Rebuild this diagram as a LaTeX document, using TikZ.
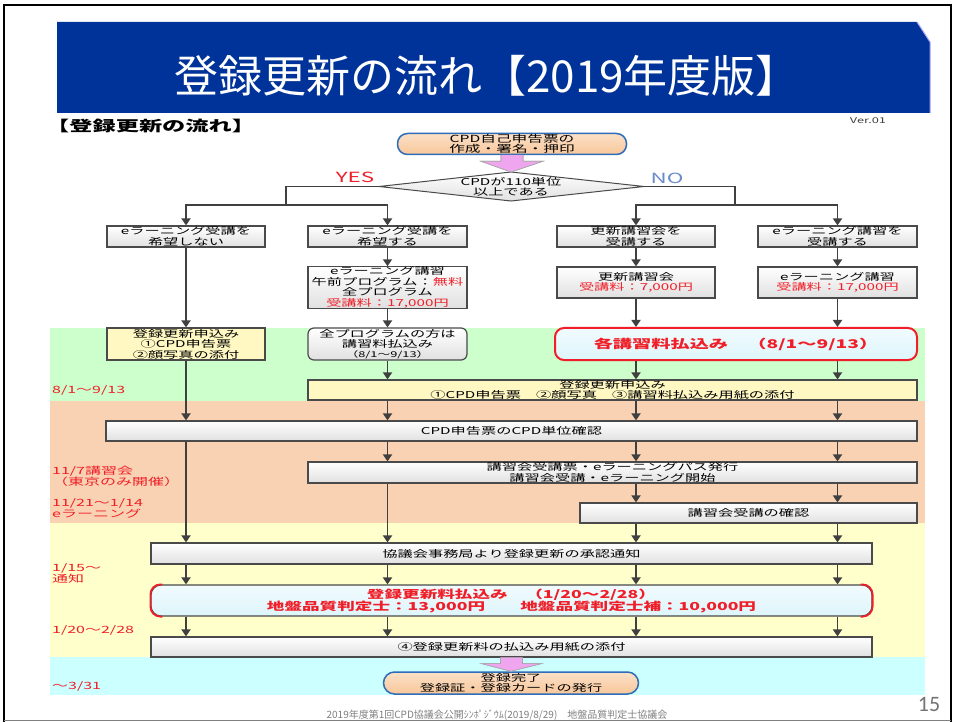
\documentclass[tikz,border=0pt]{standalone}
\usepackage{fontspec}
\usetikzlibrary{arrows.meta,shapes.geometric,calc}
\newfontfamily\jp{Noto Sans CJK JP}
\newfontfamily\jpw[FakeStretch=1.6]{Noto Sans CJK JP}
\newfontfamily\calib{Carlito}
\definecolor{bannerblue}{HTML}{003399}
\definecolor{bandG}{HTML}{CCFFCC}
\definecolor{bandP}{HTML}{F8D2B2}
\definecolor{bandY}{HTML}{FFFFCC}
\definecolor{bandC}{HTML}{CCFFFF}
\definecolor{lineC}{HTML}{404040}
\definecolor{boxline}{HTML}{4A4A4A}
\definecolor{txtred}{HTML}{F01E28}
\definecolor{peach}{HTML}{F8C79A}
\definecolor{stadblue}{HTML}{2E6DB8}
\definecolor{pinkA}{HTML}{EFA6EF}
\definecolor{yelbox}{HTML}{FFF8C2}
\definecolor{cyanbox}{HTML}{DDF5FB}
\definecolor{noblue}{HTML}{6A8CC8}
\tikzset{
  txt/.style={font=\jpw\fontsize{9.5}{10.5}\selectfont, align=center, inner sep=0pt},
  gbox/.style={txt, rectangle, draw=boxline, line width=1.2pt, top color=white, bottom color=black!12},
  ybox/.style={txt, rectangle, draw=boxline, line width=1.2pt, fill=yelbox},
  conn/.style={draw=lineC, line width=1.8pt},
  arr/.style={conn, -{Triangle[width=9pt,length=7pt]}},
  sidelab/.style={font=\jpw\fontsize{10}{11}\selectfont, text=txtred, anchor=west, align=left, inner sep=0pt},
  pinkarrow/.style={fill=pinkA, draw=gray!70, line width=0.6pt},
}
\begin{document}
\begin{tikzpicture}[x=1pt,y=-1pt]
\useasboundingbox (0,0) rectangle (954,722);
\fill[white] (0,0) rectangle (954,722);
% slide frame
\draw[black, line width=2pt] (4,722) -- (4,5) -- (951,5) -- (951,722);
\draw[gray, line width=1pt] (4,720.5) -- (951,720.5);
% banner
\fill[bannerblue] (57,22) -- (917,22) -- (930,42) -- (930,113) -- (57,113) -- cycle;
\draw[blue!35!white, line width=1pt] (917,22) -- (930,42) -- (930,113);
\node[text=white, font=\jp\fontsize{44}{48}\selectfont, inner sep=0pt] (title) at (487,76) {登録更新の流れ【2019年度版】};
% bands
\fill[bandG] (50,328) rectangle (925,401);
\fill[bandP] (50,401) rectangle (925,523);
\fill[bandY] (50,523) rectangle (925,657);
\fill[bandC] (50,657) rectangle (925,695);
% heading texts
\node[anchor=west, font=\jpw\bfseries\fontsize{14.5}{15}\selectfont, inner sep=0pt] (head) at (46,126) {【登録更新の流れ】};
\node[font=\jpw\fontsize{8}{9}\selectfont, text=black!75, inner sep=0pt] (ver) at (868,121) {Ver.01};
% start
\node[txt, draw=stadblue, line width=1.5pt, top color=peach!55!white, bottom color=peach, rounded corners=10pt, minimum width=229, minimum height=21, font=\jpw\fontsize{9.8}{10.5}\selectfont] (start) at (512,144) {CPD自己申告票の\\作成・署名・押印};
% decision
\coordinate (diaN) at (511,172);
\coordinate (diaS) at (511,201);
\coordinate (diaW) at (379,186.5);
\coordinate (diaE) at (644,186.5);
\draw[boxline, line width=1pt, top color=white, bottom color=black!12] (diaW) -- (diaN) -- (diaE) -- (diaS) -- cycle;
\node[txt] (dia) at (511,187) {CPDが110単位\\以上である};
\fill[pinkarrow] ($(start.south)+(-11,0)$) -- ($(start.south)+(-11,6)$) -- ($(start.south)+(-31,6)$) -- (diaN) -- ($(start.south)+(31,6)$) -- ($(start.south)+(11,6)$) -- ($(start.south)+(11,0)$) -- cycle;
\draw[pinkarrow] ($(start.south)+(-11,0)$) -- ($(start.south)+(-11,6)$) -- ($(start.south)+(-31,6)$) -- (diaN) -- ($(start.south)+(31,6)$) -- ($(start.south)+(11,6)$) -- ($(start.south)+(11,0)$);
\node[font=\jpw\fontsize{14}{15}\selectfont, text=txtred, inner sep=0pt] (yes) at (355,177) {YES};
\node[font=\jpw\fontsize{14}{15}\selectfont, text=noblue, inner sep=0pt] (no) at (667,178) {NO};
\coordinate (jL) at (286,205);
\coordinate (jR) at (735,205);
% row 1
\node[gbox, minimum width=158, minimum height=21] (A1) at (186,236.5) {eラーニング受講を\\希望しない};
\node[gbox, minimum width=159, minimum height=21] (B1) at (387.5,236.5) {eラーニング受講を\\希望する};
\node[gbox, minimum width=158, minimum height=21] (C1) at (636,236.5) {更新講習会を\\受講する};
\node[gbox, minimum width=159, minimum height=21] (D1) at (837.5,236.5) {eラーニング講習を\\受講する};
% row 2
\node[gbox, minimum width=159, minimum height=41] (B2) at (387.5,287.5) {eラーニング講習\\午前プログラム：\textcolor{txtred}{無料}\\全プログラム\\\textcolor{txtred}{受講料：17,000円}};
\node[gbox, minimum width=158, minimum height=31] (C2) at (636,282.5) {更新講習会\\\textcolor{txtred}{受講料：7,000円}};
\node[gbox, minimum width=159, minimum height=31] (D2) at (837.5,282.5) {eラーニング講習\\\textcolor{txtred}{受講料：17,000円}};
% row 3
\node[ybox, minimum width=158, minimum height=32] (A2) at (186,344) {登録更新申込み\\①CPD申告票\\②顔写真の添付};
\node[gbox, rounded corners=6pt, minimum width=159, minimum height=32, font=\jpw\fontsize{9.5}{10}\selectfont] (B3) at (387.5,344) {全プログラムの方は\\講習料払込み\\{\fontsize{8}{9}\selectfont （8/1～9/13）}};
\node[txt, draw=txtred, line width=2pt, top color=cyanbox!40!white, bottom color=cyanbox, rounded corners=9pt, minimum width=362, minimum height=32, font=\jpw\bfseries\fontsize{12}{13}\selectfont, text=txtred] (C3) at (736,344) {各講習料払込み　（8/1～9/13）};
% wide boxes
\node[ybox, minimum width=609, minimum height=20] (E) at (612.5,390) {登録更新申込み\\①CPD申告票　②顔写真　③講習料払込み用紙の添付};
\node[gbox, minimum width=811, minimum height=20] (F) at (511.5,431) {CPD申告票のCPD単位確認};
\node[gbox, minimum width=609, minimum height=21] (G) at (612.5,472.5) {講習会受講票・eラーニングパス発行\\講習会受講・eラーニング開始};
\node[gbox, minimum width=337, minimum height=20] (H) at (748.5,513) {講習会受講の確認};
\node[gbox, minimum width=721, minimum height=21] (I) at (511.5,553.5) {協議会事務局より登録更新の承認通知};
\node[txt, draw=boxline, line width=1.2pt, top color=cyanbox!40!white, bottom color=cyanbox, rounded corners=10pt, minimum width=721, minimum height=31, font=\jpw\bfseries\fontsize{11}{12}\selectfont, text=txtred] (J) at (511.5,600.5) {登録更新料払込み　（1/20～2/28）\\地盤品質判定士：13,000円　　地盤品質判定士補：10,000円};
\draw[txtred, line width=1.8pt, rounded corners=10pt] ([xshift=12pt]J.north west) -- (J.north west) -- (J.south west) -- ([xshift=12pt]J.south west);
\draw[txtred, line width=1.8pt, rounded corners=10pt] ([xshift=-12pt]J.north east) -- (J.north east) -- (J.south east) -- ([xshift=-12pt]J.south east);
\node[gbox, minimum width=721, minimum height=20] (K) at (511.5,647) {④登録更新料の払込み用紙の添付};
% end
\node[txt, draw=stadblue, line width=1.5pt, top color=peach!55!white, bottom color=peach, rounded corners=11pt, minimum width=255, minimum height=22] (end) at (511,683) {登録完了\\登録証・登録カードの発行};
\fill[pinkarrow] ($(K.south)+(-11,0)$) -- ($(K.south)+(-11,6)$) -- ($(K.south)+(-30,6)$) -- (end.north) -- ($(K.south)+(30,6)$) -- ($(K.south)+(11,6)$) -- ($(K.south)+(11,0)$) -- cycle;
\draw[pinkarrow] ($(K.south)+(-11,0)$) -- ($(K.south)+(-11,6)$) -- ($(K.south)+(-30,6)$) -- (end.north) -- ($(K.south)+(30,6)$) -- ($(K.south)+(11,6)$) -- ($(K.south)+(11,0)$);
% decision branches
\draw[conn] (diaW) -| (jL);
\draw[arr] (jL) -| (A1.north);
\draw[arr] (jL) -| (B1.north);
\draw[conn] (diaE) -| (jR);
\draw[arr] (jR) -| (C1.north);
\draw[arr] (jR) -| (D1.north);
% column 1
\draw[arr] (A1.south) -- (A2.north);
\draw[arr] (A2.south) -- (A2.south |- F.north);
\foreach \a/\b in {F/I,I/J,J/K} \draw[arr] (\a.south -| A2.south) -- (\b.north -| A2.south);
% column 2
\draw[arr] (B1.south) -- (B2.north);
\draw[arr] (B2.south) -- (B3.north);
\draw[arr] (B3.south) -- (B3.south |- E.north);
\foreach \a/\b in {E/F,F/G,G/I,I/J,J/K} \draw[arr] (\a.south -| B3.south) -- (\b.north -| B3.south);
% column 3
\draw[arr] (C1.south) -- (C2.north);
\draw[arr] (C2.south) -- (C2.south |- C3.north);
\foreach \a/\b in {C3/E,E/F,F/G,G/H,H/I,I/J,J/K} \draw[arr] (\a.south -| C2.south) -- (\b.north -| C2.south);
% column 4
\draw[arr] (D1.south) -- (D2.north);
\draw[arr] (D2.south) -- (D2.south |- C3.north);
\foreach \a/\b in {C3/E,E/F,F/G,G/H,H/I,I/J,J/K} \draw[arr] (\a.south -| D2.south) -- (\b.north -| D2.south);
% side labels
\node[sidelab] (s1) at (52,390) {8/1～9/13};
\node[sidelab] (s2) at (52,476) {11/7講習会\\（東京のみ開催）};
\node[sidelab] (s3) at (52,508.5) {11/21～1/14\\eラーニング};
\node[sidelab] (s4) at (52,573) {1/15～\\通知};
\node[sidelab] (s5) at (52,630) {1/20～2/28};
\node[sidelab] (s6) at (52,686) {～3/31};
% footer
\node[font=\jp\fontsize{10}{11}\selectfont, text=gray, inner sep=0pt] (foot) at (497,715) {2019年度第1回CPD協議会公開ｼﾝﾎﾟｼﾞｳﾑ(2019/8/29)　地盤品質判定士協議会};
\node[font=\calib\fontsize{22}{24}\selectfont, text=gray!90!black, inner sep=0pt] (pg) at (929,704) {15};
\end{tikzpicture}
\end{document}
